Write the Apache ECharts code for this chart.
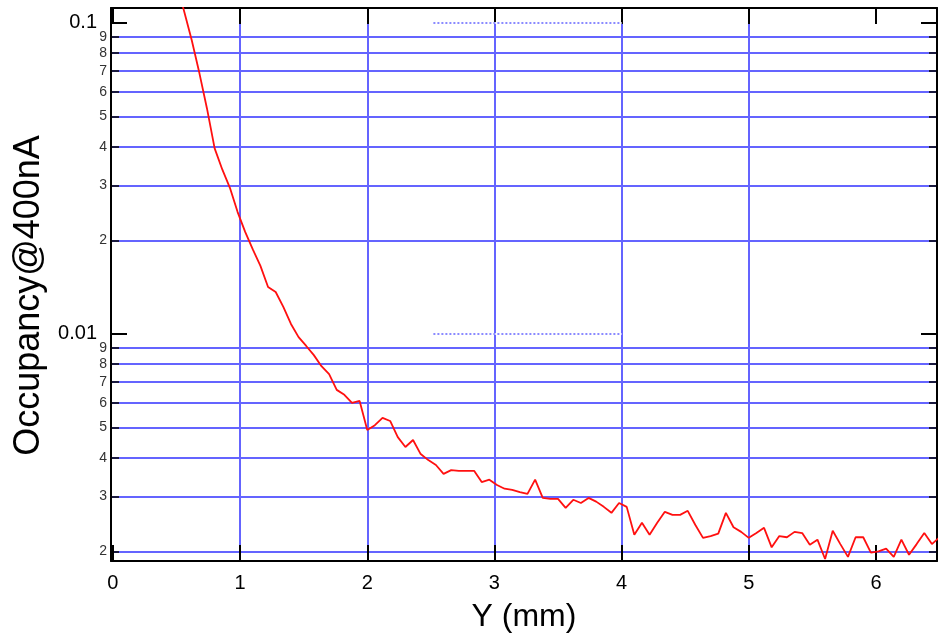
<!DOCTYPE html>
<html><head><meta charset="utf-8">
<script src="https://cdn.jsdelivr.net/npm/echarts@6/dist/echarts.min.js"></script>
<style>html,body{margin:0;padding:0;background:#fff}#c{width:938px;height:640px}</style>
</head><body><div id="c"></div>
<script>
// ---- data ----
const xValues = [0.50,0.56,0.62,0.68,0.74,0.80,0.86,0.92,0.98,1.04,1.10,1.16,1.22,1.28,1.34,1.40,1.46,1.52,1.58,1.64,1.70,1.76,1.82,1.88,1.94,2.00,2.06,2.12,2.18,2.24,2.30,2.36,2.42,2.48,2.54,2.60,2.66,2.72,2.78,2.84,2.90,2.96,3.02,3.08,3.14,3.20,3.26,3.32,3.38,3.44,3.50,3.56,3.62,3.68,3.74,3.80,3.86,3.92,3.98,4.04,4.10,4.16,4.22,4.28,4.34,4.40,4.46,4.52,4.58,4.64,4.70,4.76,4.82,4.88,4.94,5.00,5.06,5.12,5.18,5.24,5.30,5.36,5.42,5.48,5.54,5.60,5.66,5.72,5.78,5.84,5.90,5.96,6.02,6.08,6.14,6.20,6.26,6.32,6.38,6.44,6.50];
const occupancy = [0.135,0.109,0.088,0.069,0.053,0.0395,0.0338,0.0295,0.0247,0.0213,0.0187,0.01656,0.01416,0.01364,0.01222,0.01077,0.00977,0.00915,0.00855,0.00788,0.00743,0.00661,0.00637,0.00600,0.00609,0.00491,0.00509,0.00537,0.00525,0.00466,0.00433,0.00456,0.00411,0.00393,0.00379,0.00355,0.00365,0.00363,0.00363,0.00363,0.00334,0.00340,0.00327,0.00318,0.00315,0.00310,0.00306,0.00340,0.00297,0.00295,0.00295,0.00276,0.00293,0.00286,0.00297,0.00289,0.00278,0.00266,0.00286,0.00278,0.00226,0.00247,0.00226,0.00247,0.00268,0.00262,0.00262,0.00270,0.00243,0.00221,0.00224,0.00228,0.00266,0.00239,0.00231,0.00221,0.00229,0.00238,0.00206,0.00224,0.00222,0.00231,0.00229,0.00210,0.00218,0.00189,0.00233,0.00211,0.00192,0.00222,0.00222,0.00198,0.00200,0.00204,0.00192,0.00218,0.00195,0.00211,0.00229,0.00211,0.00222];

const xTickValues = [0,1,2,3,4,5,6];
const xTickLabels = ['0','1','2','3','4','5','6'];
const yTickValues = [0.002,0.003,0.004,0.005,0.006,0.007,0.008,0.009,0.01,0.02,0.03,0.04,0.05,0.06,0.07,0.08,0.09,0.1];
const yTickLabels = ['2','3','4','5','6','7','8','9','0.01','2','3','4','5','6','7','8','9','0.1'];
const yMajorValues = [0.01, 0.1];
const xMin = -0.015, xMax = 6.48;
const yMin = 0.001862, yMax = 0.1117;
const dottedRange = [2.52, 4.0];
const dottedLevels = [0.1, 0.01];

const seriesData = xValues.map((x, i) => [x, occupancy[i]]);
const gridColor = '#6464ff';
const FONT = '"Liberation Sans", Arial, sans-serif';

function yLabel(v) {
  const i = yTickValues.findIndex(t => Math.abs(t - v) < t * 1e-6);
  if (i < 0) return '';
  const isMajor = yMajorValues.some(t => Math.abs(t - v) < t * 1e-6);
  return isMajor ? '{maj|' + yTickLabels[i] + '}' : '{min|' + yTickLabels[i] + '}';
}

const chart = echarts.init(document.getElementById('c'), null, {renderer: 'canvas'});
const blackLine = {color: '#000', width: 2};

const dotted = [];
dottedLevels.forEach(lv => {
  dotted.push([{coord: [dottedRange[0], lv], lineStyle: {color: '#fff', width: 2, type: 'solid'}}, {coord: [dottedRange[1], lv]}]);
});
dottedLevels.forEach(lv => {
  dotted.push([{coord: [dottedRange[0], lv], lineStyle: {color: '#8a8aff', width: 2, type: [2, 2]}}, {coord: [dottedRange[1], lv]}]);
});

chart.setOption({
  backgroundColor: '#fff',
  animation: false,
  grid: {left: 111, right: 1, top: 8, bottom: 79, containLabel: false},
  xAxis: [{
    type: 'value', position: 'bottom', min: xMin, max: xMax, splitNumber: 6,
    name: 'Y (mm)', nameLocation: 'middle', nameGap: 40,
    nameTextStyle: {fontSize: 32, color: '#000', fontFamily: FONT},
    axisLine: {show: true, onZero: false, lineStyle: blackLine},
    axisTick: {show: true, inside: true, length: 16, lineStyle: blackLine, customValues: xTickValues},
    axisLabel: {show: true, margin: 12, fontSize: 20, color: '#000', fontFamily: FONT, customValues: xTickValues,
      formatter: v => { const i = xTickValues.indexOf(Math.round(v)); return i >= 0 ? xTickLabels[i] : ''; }},
    splitLine: {show: true, showMinLine: false, showMaxLine: false, lineStyle: {color: gridColor, width: 2}}
  }, {
    type: 'value', position: 'top', min: xMin, max: xMax, splitNumber: 6,
    axisLine: {show: true, onZero: false, lineStyle: blackLine},
    axisTick: {show: true, inside: true, length: 16, lineStyle: blackLine, customValues: xTickValues},
    axisLabel: {show: false},
    splitLine: {show: false}
  }],
  yAxis: [{
    type: 'log', logBase: 10, position: 'left', min: yMin, max: yMax,
    name: 'Occupancy@400nA', nameLocation: 'middle', nameRotate: 90, nameGap: 62,
    nameTextStyle: {fontSize: 36, color: '#000', fontFamily: FONT, padding: [0, 22, 0, 0]},
    axisLine: {show: true, onZero: false, lineStyle: blackLine},
    axisTick: {show: true, inside: true, length: 16, lineStyle: blackLine, customValues: yMajorValues},
    minorTick: {show: true, splitNumber: 9, length: 8, lineStyle: {color: '#000', width: 1.5}},
    splitLine: {show: true, showMinLine: false, showMaxLine: false, lineStyle: {color: gridColor, width: 2}},
    minorSplitLine: {show: true, lineStyle: {color: gridColor, width: 2}},
    axisLabel: {show: true, margin: 4, customValues: yTickValues, formatter: yLabel,
      rich: {
        maj: {fontSize: 20, color: '#000', fontFamily: FONT, padding: [0, 10, 0, 0]},
        min: {fontSize: 14, color: '#333', fontFamily: FONT}
      }}
  }, {
    type: 'log', logBase: 10, position: 'right', min: yMin, max: yMax,
    axisLine: {show: true, onZero: false, lineStyle: blackLine},
    axisTick: {show: true, inside: true, length: 16, lineStyle: blackLine, customValues: yMajorValues},
    minorTick: {show: true, splitNumber: 9, length: 8, lineStyle: {color: '#000', width: 1.5}},
    axisLabel: {show: false},
    splitLine: {show: false}
  }],
  series: [{
    type: 'line', xAxisIndex: 0, yAxisIndex: 0,
    data: seriesData, showSymbol: false, symbol: 'none',
    lineStyle: {color: '#ff1010', width: 1.8},
    clip: true, z: 3,
    markLine: {silent: true, symbol: ['none', 'none'], label: {show: false}, animation: false, data: dotted}
  }]
});
</script></body></html>
